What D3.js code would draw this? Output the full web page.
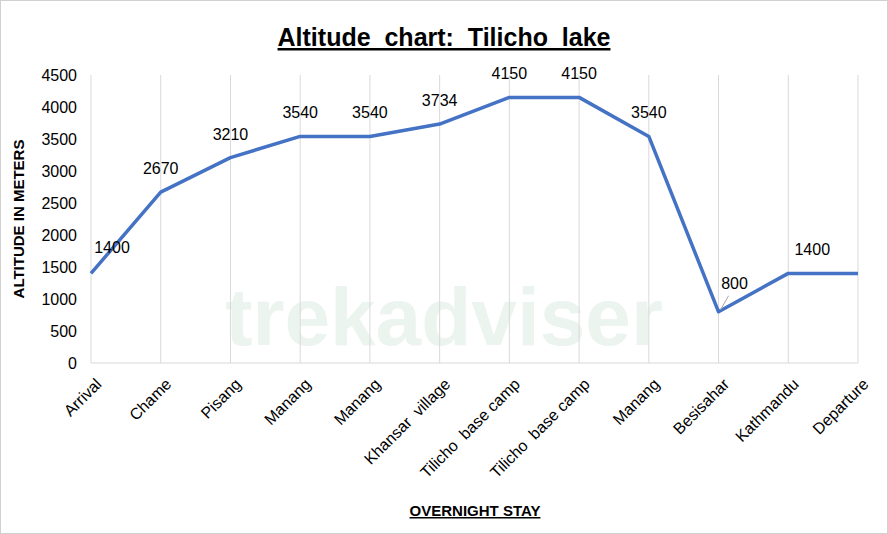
<!DOCTYPE html>
<html><head><meta charset="utf-8">
<script src="https://cdn.jsdelivr.net/npm/d3@7"></script>
<style>body{margin:0;background:#fff}text{font-family:"Liberation Sans",Arial,sans-serif;white-space:pre}</style>
</head><body>
<svg id="c" width="888" height="534"></svg>
<script>
const categories=["Arrival","Chame","Pisang","Manang","Manang","Khansar  village","Tilicho  base camp","Tilicho  base camp","Manang","Besisahar","Kathmandu","Departure"];
const altitudes=[1400,2670,3210,3540,3540,3734,4150,4150,3540,800,1400,1400];
const yTicks=[0,500,1000,1500,2000,2500,3000,3500,4000,4500];
const svg=d3.select("#c");
svg.append("rect").attr("x",0.5).attr("y",0.5).attr("width",887).attr("height",533).attr("fill","#fff").attr("stroke","#d0d0d0");
svg.append("text").attr("x",444).attr("y",345).attr("text-anchor","middle").attr("font-size",82).attr("font-weight","bold").attr("fill","#c9e0d2").attr("opacity",0.35).text("trekadviser");
const x=d3.scalePoint().domain(d3.range(categories.length)).range([91,858]);
const y=d3.scaleLinear().domain([0,4500]).range([363,75]);
const g=svg.append("g");
g.selectAll("line.v").data(d3.range(categories.length)).join("line").attr("x1",d=>x(d)).attr("x2",d=>x(d)).attr("y1",75).attr("y2",363).attr("stroke","#d9d9d9");
g.append("line").attr("x1",91).attr("x2",858).attr("y1",363).attr("y2",363).attr("stroke","#d9d9d9");
const ya=svg.append("g").attr("transform","translate(91,0)").call(d3.axisLeft(y).tickValues(yTicks).tickSize(0).tickPadding(14).tickFormat(d3.format("d")));
ya.select(".domain").remove();
ya.selectAll("text").attr("font-size",16).attr("fill","#000");
const xa=svg.append("g").attr("transform","translate(0,363)").call(d3.axisBottom(x).tickSize(0).tickFormat(i=>categories[i]));
xa.select(".domain").remove();
xa.selectAll("text").attr("font-size",16).attr("fill","#000").attr("text-anchor","end").attr("dy",0).attr("transform",`translate(9,20) rotate(-45)`);
svg.append("path").datum(altitudes).attr("fill","none").attr("stroke","#4472c4").attr("stroke-width",3.5).attr("stroke-linejoin","round")
 .attr("d",d3.line().x((d,i)=>x(i)).y(d=>y(d)).curve(d3.curveLinear));
const lbl=svg.append("g");
altitudes.forEach((v,i)=>{
  if(i===11) return;
  let lx=x(i),ly=y(v)-18;
  if(i===0){lx=x(i)+21;ly=y(v)-20;}
  if(i===10){lx=x(i)+24;}
  if(i===9){lx=x(i)+16;ly=y(v)-23;
    svg.append("line").attr("x1",x(i)+2).attr("y1",y(v)-2).attr("x2",x(i)+10).attr("y2",y(v)-16).attr("stroke","#a6a6a6");}
  lbl.append("text").attr("x",lx).attr("y",ly).attr("text-anchor","middle").attr("font-size",16).text(v);
});
svg.append("text").attr("x",444).attr("y",46).attr("text-anchor","middle").attr("font-size",25).attr("font-weight","bold").attr("text-decoration","underline").text("Altitude  chart:  Tilicho  lake");
svg.append("text").attr("transform","translate(24,219) rotate(-90)").attr("text-anchor","middle").attr("font-size",15).attr("font-weight","bold").text("ALTITUDE IN METERS");
svg.append("text").attr("x",475).attr("y",516).attr("text-anchor","middle").attr("font-size",15).attr("font-weight","bold").attr("text-decoration","underline").text("OVERNIGHT STAY");
</script></body></html>
